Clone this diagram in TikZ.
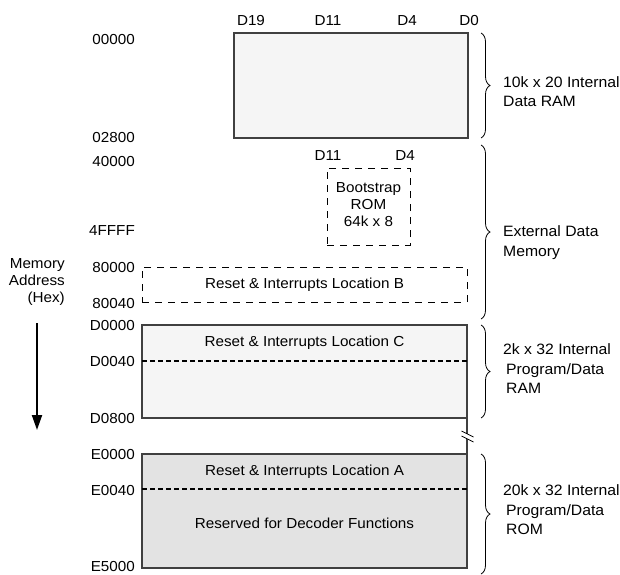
\documentclass[tikz,border=0pt]{standalone}
\usepackage{fontspec}
\setmainfont{Liberation Sans}[FakeStretch=1.05]
\usetikzlibrary{decorations.pathreplacing,arrows.meta}
\definecolor{ram_fill}{rgb}{0.96,0.96,0.96}
\definecolor{rom_fill}{rgb}{0.89,0.89,0.89}
\definecolor{box_line}{rgb}{0.25,0.25,0.25}

\begin{document}
\begin{tikzpicture}[x=1pt,y=-1pt,
    every node/.style={font=\fontsize{14.5}{17}\selectfont},
    addr/.style={anchor=east,inner sep=0pt},
    bit/.style={inner sep=0pt},
    block/.style={draw=box_line,line width=1.2pt,anchor=north west,inner sep=0pt,outer sep=0pt},
    dashblock/.style={draw,dash pattern=on 7pt off 6pt,line width=1pt,anchor=north west,inner sep=0pt,outer sep=0pt},
    sep/.style={line width=2.4pt,dash pattern=on 5pt off 3pt},
    membrace/.style={decorate,decoration={brace,amplitude=9pt},line width=0.8pt},
    region/.style={anchor=west,align=left,inner sep=0pt,font=\fontsize{15}{19.5}\selectfont},
  ]
  \useasboundingbox (0,0) rectangle (620,574);

  % address column
  \node[addr] (a00000) at (135,40) {00000};
  \node[addr] (a02800) at (135,138) {02800};
  \node[addr] (a40000) at (135,162) {40000};
  \node[addr] (a4FFFF) at (135,231) {4FFFF};
  \node[addr] (a80000) at (135,267) {80000};
  \node[addr] (a80040) at (135,303) {80040};
  \node[addr] (aD0000) at (135,325) {D0000};
  \node[addr] (aD0040) at (135,361) {D0040};
  \node[addr] (aD0800) at (135,418) {D0800};
  \node[addr] (aE0000) at (135,454) {E0000};
  \node[addr] (aE0040) at (135,490) {E0040};
  \node[addr] (aE5000) at (135,566) {E5000};

  \node[anchor=east,align=right,inner sep=0pt] (axis) at (65,282) {Memory\\Address\\(Hex)};
  \coordinate (dir top) at (37,323);
  \coordinate (dir bot) at (37,430);
  \draw[line width=2pt,-{Triangle[length=15pt,width=10pt]}] (dir top) -- (dir bot);

  % data bits
  \node[bit] (d19) at (251,21) {D19};
  \node[bit] (d11) at (328,21) {D11};
  \node[bit] (d4) at (407,21) {D4};
  \node[bit] (d0) at (469,21) {D0};
  \node[bit] (bd11) at (328,156) {D11};
  \node[bit] (bd4) at (405,156) {D4};

  % memory blocks
  \node[block,fill=ram_fill,minimum width=234pt,minimum height=105pt] (dram) at (234,33) {};
  \node[dashblock,minimum width=83pt,minimum height=77pt] (boot) at (327,168) {};
  \node[align=center,inner sep=0pt] (bootlbl) at ([yshift=2pt]boot.center) {Bootstrap\\ROM\\64k x 8};
  \node[dashblock,minimum width=325pt,minimum height=35pt] (locB) at (142,267) {};
  \node[inner sep=0pt] (locBlbl) at (locB.center) {Reset \& Interrupts Location B};

  \node[block,fill=ram_fill,minimum width=325pt,minimum height=93pt] (locC) at (142,325) {};
  \draw[sep] ([yshift=-36pt]locC.north west) -- ([yshift=-36pt]locC.north east);
  \node[inner sep=0pt] (locClbl) at ([yshift=-18pt]locC.north) {Reset \& Interrupts Location C};

  \node[block,fill=rom_fill,minimum width=325pt,minimum height=114pt] (locA) at (142,454) {};
  \draw[sep] ([yshift=-35pt]locA.north west) -- ([yshift=-35pt]locA.north east);
  \node[inner sep=0pt] (locAlbl) at ([yshift=-17.5pt]locA.north) {Reset \& Interrupts Location A};
  \node[inner sep=0pt] (declbl) at ([yshift=-69pt]locA.north) {Reserved for Decoder Functions};

  % address gap
  \draw[box_line,line width=1.2pt] (locC.south east) -- (locA.north east);
  \coordinate (brk) at (467.5,436);
  \fill[white] ([shift={(-6,-5)}]brk) -- ([shift={(6,1)}]brk) -- ([shift={(6,6)}]brk) -- ([shift={(-6,0)}]brk) -- cycle;
  \draw[line width=0.8pt] ([shift={(-6,-5)}]brk) -- ([shift={(6,1)}]brk)
    ([shift={(-6,0)}]brk) -- ([shift={(6,6)}]brk);

  % regions
  \coordinate (ext top) at (481,145);
  \coordinate (ext bot) at (481,319);
  \draw[membrace] ([xshift=13pt]dram.north east) -- ([xshift=13pt]dram.south east);
  \draw[membrace] (ext top) -- (ext bot);
  \draw[membrace] ([xshift=14pt]locC.north east) -- ([xshift=14pt]locC.south east);
  \draw[membrace] ([xshift=14pt]locA.north east) -- ([xshift=14pt,yshift=-6pt]locA.south east);

  \node[region] (dramlbl) at (503,91.5) {10k x 20 Internal\\Data RAM};
  \node[region] (extlbl) at (503,242.5) {External Data\\Memory};
  \node[region] (locCinfo) at (503,369) {2k x 32 Internal\\\hspace{3pt}Program/Data\\\hspace{3pt}RAM};
  \node[region] (locAinfo) at (503,510) {20k x 32 Internal\\\hspace{3pt}Program/Data\\\hspace{3pt}ROM};
\end{tikzpicture}
\end{document}
